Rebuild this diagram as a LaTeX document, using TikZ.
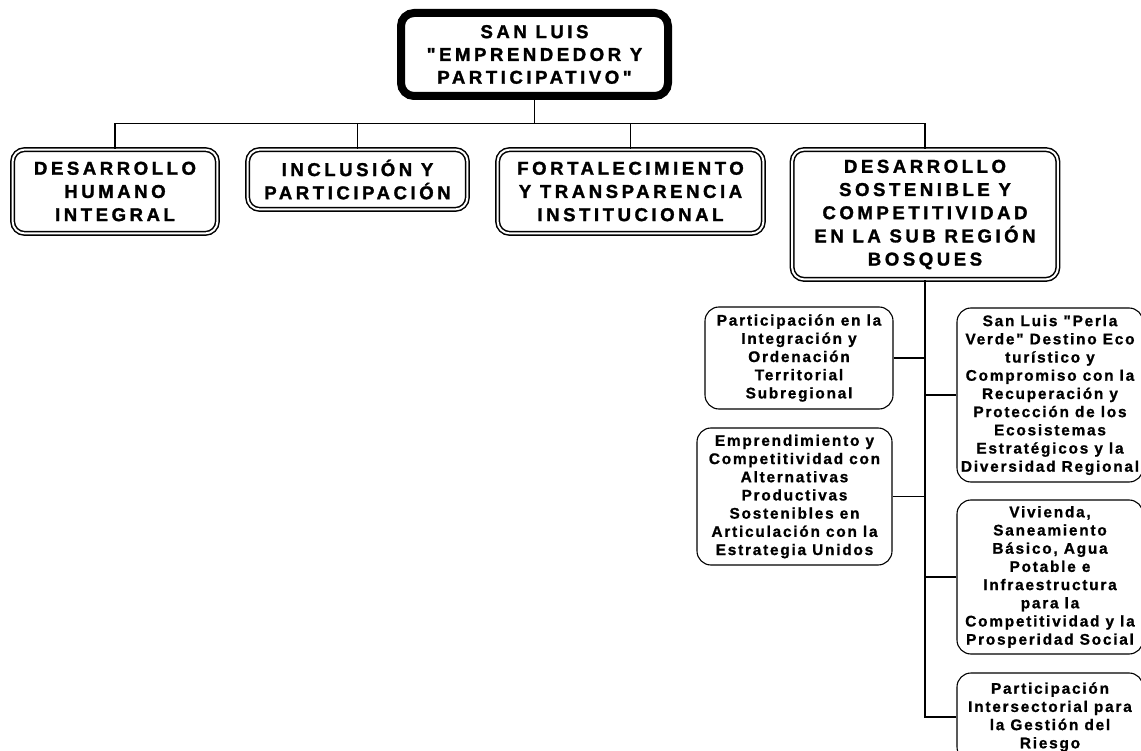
\documentclass[tikz,border=0pt]{standalone}
\usepackage{fontspec}
\setmainfont{Liberation Sans}
\newfontfamily\bigfont{Liberation Sans Bold}[LetterSpace=19,FakeBold=1.5]
\newfontfamily\smallfont{Liberation Sans Bold}[LetterSpace=11.5,FakeBold=1]
\tikzset{
  topbox/.style={draw, line width=8pt, rounded corners=13pt, inner sep=0pt, align=center,
    font=\bigfont\fontsize{18.6}{22.8}\selectfont},
  lvbox/.style={draw, double=white, double distance=2pt, line width=1.5pt, rounded corners=12pt,
    inner sep=0pt, align=center, font=\bigfont\fontsize{18.6}{23.2}\selectfont},
  smbox/.style={draw, line width=1.1pt, rounded corners=14pt, inner sep=0pt, align=center,
    font=\smallfont\fontsize{15.4}{18.2}\selectfont},
  link/.style={line width=1.2pt}
}
\begin{document}
\begin{tikzpicture}[x=1pt,y=-1pt]
\useasboundingbox (0,0) rectangle (1141,751);
\clip (0,0) rectangle (1141,751);
\fill[white] (0,0) rectangle (1141,751);

\node[topbox, minimum width=267pt, minimum height=83pt] (root) at (534.5,54.5)
  {SAN LUIS\\"EMPRENDEDOR Y\\PARTICIPATIVO"};

\node[lvbox, minimum width=204.8pt, minimum height=83.8pt] (b1) at (115,191.5)
  {DESARROLLO\\HUMANO\\INTEGRAL};
\node[lvbox, minimum width=219.8pt, minimum height=59.8pt] (b2) at (357.5,179.5)
  {INCLUSIÓN Y\\PARTICIPACIÓN};
\node[lvbox, minimum width=265.8pt, minimum height=83.8pt] (b3) at (630.5,191.5)
  {FORTALECIMIENTO\\Y TRANSPARENCIA\\INSTITUCIONAL};
\node[lvbox, minimum width=265.8pt, minimum height=129.8pt] (b4) at (925,214.5)
  {\rule{0pt}{3pt}DESARROLLO\\SOSTENIBLE Y\\COMPETITIVIDAD\\EN LA SUB REGIÓN\\BOSQUES};

\node[smbox, minimum width=188pt, minimum height=102pt] (sA) at (799,358)
  {Participación en la\\Integración y\\Ordenación\\Territorial\\Subregional};
\node[smbox, minimum width=195pt, minimum height=137pt] (sB) at (794.5,496.5)
  {Emprendimiento y\\Competitividad con\\Alternativas\\Productivas\\Sostenibles en\\Articulación con la\\Estrategia Unidos};
\node[smbox, minimum width=186pt, minimum height=174pt] (sC) at (1050,395)
  {San Luis "Perla\\Verde" Destino Eco\\turístico y\\Compromiso con la\\Recuperación y\\Protección de los\\Ecosistemas\\Estratégicos y la\\Diversidad Regional};
\node[smbox, minimum width=186pt, minimum height=154pt] (sD) at (1050,577)
  {Vivienda,\\Saneamiento\\Básico, Agua\\Potable e\\Infraestructura\\para la\\Competitividad y la\\Prosperidad Social};
\node[smbox, minimum width=186pt, minimum height=88pt] (sE) at (1050,717)
  {Participación\\Intersectorial para\\la Gestión del\\Riesgo};

\coordinate (bus) at (534.5,123.5);
\draw[link] (root.south) -- (bus);
\draw[link] (b1.north) |- (bus) -| (b4.north);
\draw[link] (b2.north) -- (b2.north |- bus);
\draw[link] (b3.north) -- (b3.north |- bus);

\draw[link] (b4.south) -- (b4.south |- sE.west) -- (sE.west);
\draw[link] (sA.east) -- (sA.east -| b4.south);
\draw[link] (sB.east) -- (sB.east -| b4.south);
\draw[link] (sC.west) -- (sC.west -| b4.south);
\draw[link] (sD.west) -- (sD.west -| b4.south);
\end{tikzpicture}
\end{document}
